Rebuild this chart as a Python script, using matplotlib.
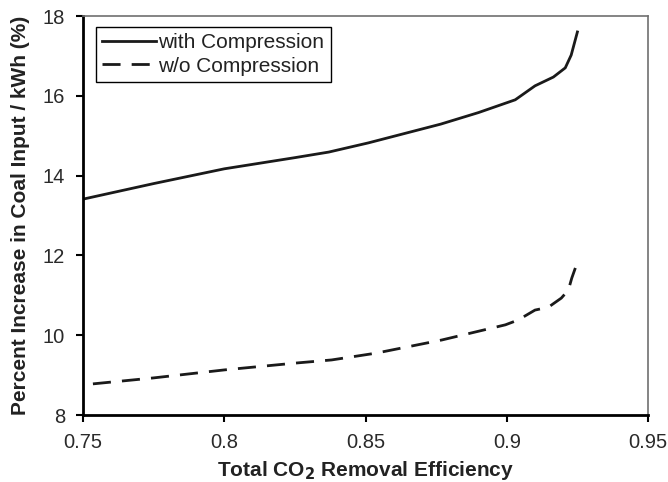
import matplotlib.pyplot as plt

# data
eff_with = [0.75, 0.775, 0.80, 0.825, 0.837, 0.851, 0.8766, 0.89, 0.903, 0.906, 0.910,
            0.9165, 0.9207, 0.9228, 0.925]
inc_with = [13.41, 13.80, 14.17, 14.45, 14.59, 14.82, 15.29, 15.58, 15.90, 16.05, 16.25,
            16.47, 16.70, 17.02, 17.60]

eff_wo = [0.7535, 0.775, 0.80, 0.825, 0.838, 0.8537, 0.877, 0.8995, 0.904, 0.910,
          0.9147, 0.9193, 0.9218, 0.923, 0.925]
inc_wo = [8.78, 8.93, 9.13, 9.30, 9.38, 9.55, 9.88, 10.26, 10.38, 10.63,
          10.70, 10.93, 11.13, 11.43, 11.83]

plt.rcParams['font.family'] = ['Liberation Sans', 'DejaVu Sans']

fig = plt.figure(figsize=(6.68, 4.82), dpi=100)
ax = fig.add_axes([0.1243, 0.139, 0.8458, 0.8278])

ax.plot(eff_with, inc_with, color='#1a1a1a', lw=2, label='with Compression')
ax.plot(eff_wo, inc_wo, color='#1a1a1a', lw=2, dashes=(6.5, 4), label='w/o Compression')

ax.set_xlim(0.75, 0.95)
ax.set_ylim(8, 18)
ax.set_xticks([0.75, 0.8, 0.85, 0.9, 0.95])
ax.set_xticklabels(['0.75', '0.8', '0.85', '0.9', '0.95'])
ax.set_yticks([8, 10, 12, 14, 16, 18])
ax.tick_params(direction='out', length=5, width=1.5, labelsize=14.5, colors='black',
               labelcolor='#2a2a2a')
ax.tick_params(axis='x', pad=8)
ax.tick_params(axis='y', pad=8)

for s in ['left', 'bottom']:
    ax.spines[s].set_linewidth(2)
    ax.spines[s].set_color('black')
for s in ['top', 'right']:
    ax.spines[s].set_linewidth(1.2)
    ax.spines[s].set_color('#707070')

ax.set_xlabel('Total CO$_\\mathbf{2}$ Removal Efficiency', fontsize=15, fontweight='bold',
              labelpad=5, color='#222222')
ax.set_ylabel('Percent Increase in Coal Input / kWh (%)', fontsize=15, fontweight='bold',
              labelpad=9, color='#222222')

leg = ax.legend(loc='upper left', bbox_to_anchor=(0.023, 0.972), fontsize=15,
                fancybox=False, framealpha=1, edgecolor='black', handlelength=2.6,
                handletextpad=0.1, borderpad=0.3, labelspacing=0.2, borderaxespad=0)
leg.get_frame().set_linewidth(1)
for t in leg.get_texts():
    t.set_color('#222222')

fig.savefig('out.png', dpi=100)
